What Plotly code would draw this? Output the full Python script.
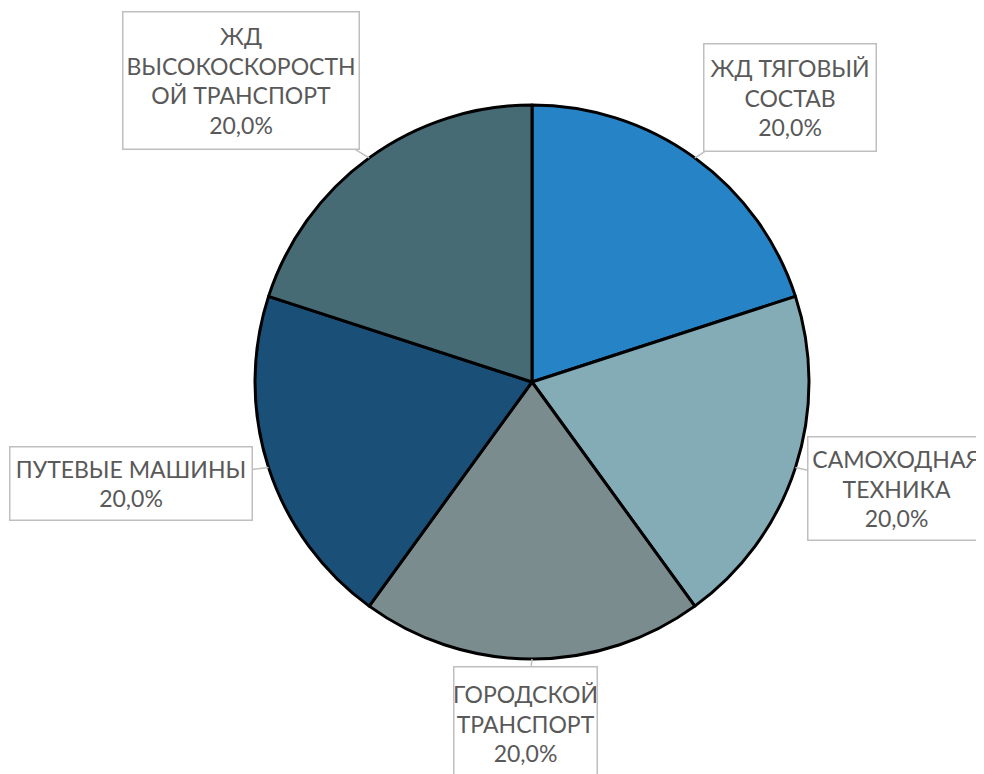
import math
import plotly.graph_objects as go

# данные
labels = ["ЖД ТЯГОВЫЙ СОСТАВ", "САМОХОДНАЯ ТЕХНИКА", "ГОРОДСКОЙ ТРАНСПОРТ",
          "ПУТЕВЫЕ МАШИНЫ", "ЖД ВЫСОКОСКОРОСТНОЙ ТРАНСПОРТ"]
values = [20.0, 20.0, 20.0, 20.0, 20.0]
box_texts = ["ЖД ТЯГОВЫЙ<br>СОСТАВ", "САМОХОДНАЯ<br>ТЕХНИКА", "ГОРОДСКОЙ<br>ТРАНСПОРТ",
             "ПУТЕВЫЕ МАШИНЫ", "ЖД<br>ВЫСОКОСКОРОСТН<br>ОЙ ТРАНСПОРТ"]
colors = ["#2683C6", "#84ACB6", "#7A8C8E", "#1A4F77", "#476B74"]

W, H = 984, 774
shift = 8  # отступ body страницы
cx, cy, r = 532 - shift, 382 - shift, 277  # центр и радиус круга в пикселях

# смещения подписей (пиксели) и размеры рамок
offsets = [(95, -60), (101, 21), (-7, 64), (-138, 16), (-128, -77)]
box_sizes = [(171, 106), (176, 102), (142, 112), (241, 72), (235, 136)]

fig = go.Figure(go.Pie(
    labels=labels,
    values=values,
    sort=False,
    direction="clockwise",
    rotation=0,
    marker=dict(colors=colors, line=dict(color="black", width=3)),
    textinfo="none",
    hoverinfo="label+percent",
    domain=dict(x=[(cx - r) / W, (cx + r) / W],
                y=[(H - cy - r) / H, (H - cy + r) / H]),
    showlegend=False,
))

total = sum(values)
cum = 0
for i, v in enumerate(values):
    mid = (cum + v / 2) / total * 2 * math.pi
    cum += v
    px = cx + r * math.sin(mid)
    py = cy - r * math.cos(mid)
    pct = f"{v / total * 100:.1f}%".replace(".", ",")
    fig.add_annotation(
        x=px / W, y=1 - py / H, xref="paper", yref="paper",
        text=f"{box_texts[i]}<br>{pct}",
        showarrow=True, arrowhead=0, arrowwidth=1.5, arrowcolor="#BFBFBF",
        ax=offsets[i][0], ay=offsets[i][1],
        width=box_sizes[i][0], height=box_sizes[i][1],
        bordercolor="#BFBFBF", borderwidth=1.5, borderpad=0,
        bgcolor="white",
        font=dict(family="Lato, 'Open Sans', sans-serif", size=23, color="#595959"),
        align="center", valign="middle",
    )

fig.update_layout(
    width=W, height=H,
    margin=dict(l=0, r=0, t=0, b=0),
    paper_bgcolor="white",
    plot_bgcolor="white",
)

fig.write_html("out.html")
